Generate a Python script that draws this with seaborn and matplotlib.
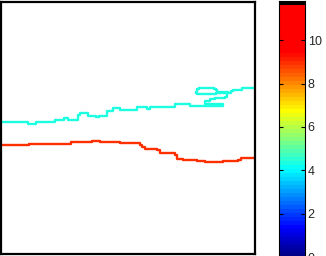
import numpy as np
import pandas as pd
import matplotlib
matplotlib.use("Agg")
import matplotlib.pyplot as plt
from matplotlib.colors import ListedColormap
import seaborn as sns

# ---- data (x to the right, y downward in plot units) ----
cyan_x = [1, 28, 36, 55, 64, 68, 78, 80, 88, 96, 99, 107, 113, 120, 137, 147, 150, 175, 190, 201, 223, 223, 207, 205, 210, 215, 225, 227, 231, 233, 242, 254, 255]
cyan_y = [122, 124, 122, 120, 118, 120, 115, 113, 116, 117, 116, 111, 108, 110, 106.5, 108.5, 106.7, 104.3, 105.7, 105.5, 105.5, 104, 104, 101, 99, 98.3, 97, 93, 91, 89.7, 88.3, 87.7, 87.7]
loop_x = [196, 197, 199, 214, 216, 217, 228, 228, 217, 216, 199, 197, 196]
loop_y = [92, 89, 88, 88.5, 90, 92, 92, 93, 93, 93.5, 94, 93, 92]
red_x = [1, 29, 71, 92, 100, 120, 140, 142, 145, 148, 157, 160, 175, 177, 183, 197, 205, 223, 238, 241, 255]
red_y = [145, 143.7, 141.7, 140.7, 141.7, 142.7, 144.5, 146.5, 148.5, 149, 150, 153.3, 155, 158.5, 160, 161, 162.3, 160.7, 159.5, 158, 158]
cbar_ticks = [0, 2, 4, 6, 8, 10]
cbar_max = 11.81
n_bands = 64

sns.set_theme(style="white")
plt.rcParams['font.family'] = ['Liberation Sans', 'DejaVu Sans']

W, H = 326, 256
fig = plt.figure(figsize=(W / 100, H / 100), dpi=100)
fig.patch.set_facecolor("white")

ax = fig.add_axes([1 / W, (H - 254) / H, 254 / W, 252 / H])
df_c = pd.DataFrame({"x": cyan_x, "y": cyan_y})
df_l = pd.DataFrame({"x": loop_x, "y": loop_y})
df_r = pd.DataFrame({"x": red_x, "y": red_y})
kw = dict(sort=False, estimator=None, drawstyle="steps-post", linewidth=1.7, ax=ax)
sns.lineplot(data=df_c, x="x", y="y", color="#1cffe0", **kw)
sns.lineplot(data=df_l, x="x", y="y", color="#1cffe0", **kw)
sns.lineplot(data=df_r, x="x", y="y", color="#ff3000", **kw)
ax.set_xlim(1, 255)
ax.set_ylim(254, 2)
ax.set_xticks([])
ax.set_yticks([])
ax.set_xlabel("")
ax.set_ylabel("")
for s in ax.spines.values():
    s.set_visible(True)
    s.set_color("black")
    s.set_linewidth(1.6)

# ---- colour bar ----
def jetlike(v):
    t = v / 10.8
    r = np.clip(1.5 - abs(4 * t - 3), 0, 1) if t <= 7 / 8 else 1.0
    g = np.clip(1.5 - abs(4 * t - 2), 0, 1)
    b = np.clip(1.5 - abs(4 * t - 1), 0, 1)
    return (r, g, b)

step = cbar_max / n_bands
cols = [jetlike((i + 0.5) * step) for i in range(n_bands - 1)] + [(0, 0, 0)]
cmap = ListedColormap(cols)

cb_bottom_px = 257
cb_top_px = 1
cax = fig.add_axes([279 / W, (H - cb_bottom_px) / H, 26 / W, (cb_bottom_px - cb_top_px) / H])
grad = np.arange(n_bands).reshape(-1, 1)
cax.imshow(grad, cmap=cmap, aspect="auto", origin="lower",
           extent=[0, 1, 0, cbar_max], interpolation="nearest")
cax.set_xlim(0, 1)
cax.set_ylim(0, cbar_max)
cax.set_xticks([])
cax.set_yticks(cbar_ticks)
cax.set_yticklabels([str(t) for t in cbar_ticks], fontsize=9)
cax.yaxis.tick_right()
cax.tick_params(axis="y", direction="in", length=3, width=0.8, color="black",
                left=True, right=True, labelleft=False, labelright=True, pad=2)
for s in cax.spines.values():
    s.set_visible(True)
    s.set_color("black")
    s.set_linewidth(0.8)

fig.savefig("out.png", dpi=100)
